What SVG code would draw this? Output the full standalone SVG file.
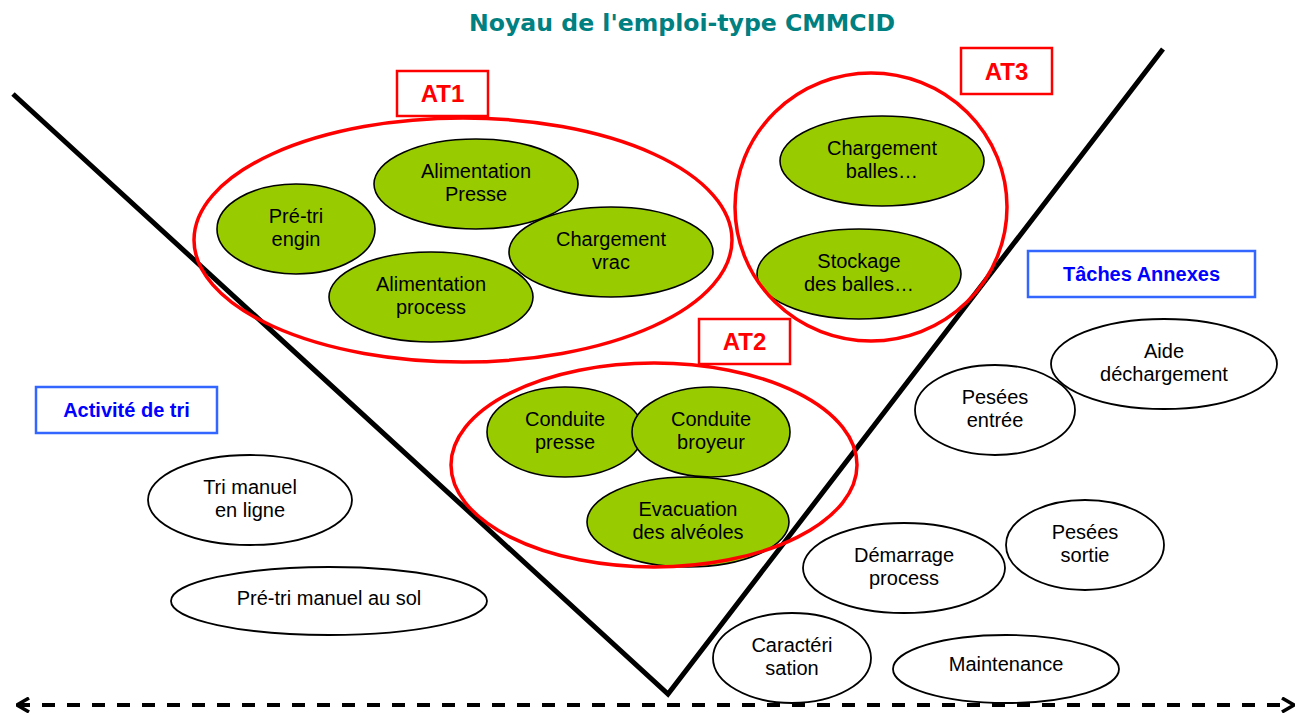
<svg xmlns="http://www.w3.org/2000/svg" width="1306" height="713" viewBox="0 0 1306 713">
<style>
.t{font-family:"Liberation Sans",Arial,sans-serif;font-size:20px;fill:#000;text-anchor:middle}
.g{fill:#99CC00;stroke:#000;stroke-width:1.6}
.w{fill:#fff;stroke:#000;stroke-width:1.8}
.red{fill:none;stroke:#FF0000;stroke-width:3.5}
.rbox{fill:#fff;stroke:#FF0000;stroke-width:2.5}
.rt{font-family:"Liberation Sans",Arial,sans-serif;font-size:24px;font-weight:bold;fill:#FF0000;text-anchor:middle}
.bbox{fill:#fff;stroke:#3366FF;stroke-width:2.5}
.bt{font-family:"Liberation Sans",Arial,sans-serif;font-size:20px;font-weight:bold;fill:#0000FF;text-anchor:middle}
.v{fill:none;stroke:#000;stroke-width:5;stroke-linejoin:miter}
.axis{fill:none;stroke:#000;stroke-width:4;stroke-dasharray:13 12}
</style>
<defs>
<marker id="chev" viewBox="0 0 14 16" refX="13" refY="8" markerWidth="14" markerHeight="16" markerUnits="userSpaceOnUse" orient="auto-start-reverse">
<path d="M1,1 L13,8 L1,15" fill="none" stroke="#000" stroke-width="3.5"/>
</marker>
</defs>
<rect width="1306" height="713" fill="#fff"/>
<text id="title" x="682" y="31" font-family="'DejaVu Sans',sans-serif" font-size="23" font-weight="bold" fill="#008080" text-anchor="middle" textLength="426" lengthAdjust="spacingAndGlyphs">Noyau de l'emploi-type CMMCID</text>

<g id="connectors">
<polyline class="v" points="13,94 668,694 1163,49"/>
<line class="axis" x1="17" y1="705" x2="1294" y2="705" marker-start="url(#chev)" marker-end="url(#chev)"/>
</g>

<g id="at1-group">
<g id="n-pretri-engin"><ellipse class="g" cx="296" cy="229" rx="79" ry="45"/><text class="t" x="296" y="223">Pré-tri</text><text class="t" x="296" y="246">engin</text></g>
<g id="n-alim-presse"><ellipse class="g" cx="476" cy="184" rx="102" ry="45"/><text class="t" x="476" y="178">Alimentation</text><text class="t" x="476" y="201">Presse</text></g>
<g id="n-charg-vrac"><ellipse class="g" cx="611" cy="252" rx="102" ry="45"/><text class="t" x="611" y="246">Chargement</text><text class="t" x="611" y="269">vrac</text></g>
<g id="n-alim-process"><ellipse class="g" cx="431" cy="297" rx="102" ry="45"/><text class="t" x="431" y="291">Alimentation</text><text class="t" x="431" y="314">process</text></g>
<ellipse id="at1-ring" class="red" cx="463" cy="240" rx="269" ry="122"/>
<g id="at1-label"><rect class="rbox" x="397" y="71" width="91" height="45"/><text class="rt" x="442.5" y="102">AT1</text></g>
</g>

<g id="at3-group">
<g id="n-charg-balles"><ellipse class="g" cx="882" cy="161" rx="102" ry="45"/><text class="t" x="882" y="155">Chargement</text><text class="t" x="882" y="178">balles…</text></g>
<g id="n-stockage"><ellipse class="g" cx="859" cy="274" rx="102" ry="45"/><text class="t" x="859" y="268">Stockage</text><text class="t" x="859" y="291">des balles…</text></g>
<ellipse id="at3-ring" class="red" cx="871" cy="207" rx="136" ry="134"/>
<g id="at3-label"><rect class="rbox" x="961" y="48" width="91" height="46"/><text class="rt" x="1006.5" y="80">AT3</text></g>
</g>

<g id="at2-group">
<g id="n-conduite-presse"><ellipse class="g" cx="565" cy="432" rx="78" ry="45"/><text class="t" x="565" y="426">Conduite</text><text class="t" x="565" y="449">presse</text></g>
<g id="n-conduite-broyeur"><ellipse class="g" cx="711" cy="432" rx="79" ry="45"/><text class="t" x="711" y="426">Conduite</text><text class="t" x="711" y="449">broyeur</text></g>
<g id="n-evacuation"><ellipse class="g" cx="688" cy="522" rx="101" ry="45"/><text class="t" x="688" y="516">Evacuation</text><text class="t" x="688" y="539">des alvéoles</text></g>
<ellipse id="at2-ring" class="red" cx="654" cy="465" rx="203" ry="102"/>
<g id="at2-label"><rect class="rbox" x="699" y="319" width="91" height="45"/><text class="rt" x="744.5" y="350">AT2</text></g>
</g>

<g id="activite-tri"><rect class="bbox" x="36" y="387" width="181" height="46"/><text class="bt" x="126.5" y="417">Activité de tri</text></g>
<g id="taches-annexes"><rect class="bbox" x="1028" y="251" width="227" height="46"/><text class="bt" x="1141.5" y="281">Tâches Annexes</text></g>

<g id="n-tri-manuel"><ellipse class="w" cx="250" cy="500" rx="102" ry="45"/><text class="t" x="250" y="494">Tri manuel</text><text class="t" x="250" y="517">en ligne</text></g>
<g id="n-pretri-sol"><ellipse class="w" cx="329" cy="601" rx="158" ry="34"/><text class="t" x="329" y="605">Pré-tri manuel au sol</text></g>
<g id="n-aide"><ellipse class="w" cx="1164" cy="364" rx="113" ry="45"/><text class="t" x="1164" y="358">Aide</text><text class="t" x="1164" y="381">déchargement</text></g>
<g id="n-pesees-entree"><ellipse class="w" cx="995" cy="410" rx="80" ry="45"/><text class="t" x="995" y="404">Pesées</text><text class="t" x="995" y="427">entrée</text></g>
<g id="n-demarrage"><ellipse class="w" cx="904" cy="568" rx="101" ry="45"/><text class="t" x="904" y="562">Démarrage</text><text class="t" x="904" y="585">process</text></g>
<g id="n-pesees-sortie"><ellipse class="w" cx="1085" cy="545" rx="79" ry="45"/><text class="t" x="1085" y="539">Pesées</text><text class="t" x="1085" y="562">sortie</text></g>
<g id="n-caracterisation"><ellipse class="w" cx="792" cy="658" rx="79" ry="45"/><text class="t" x="792" y="652">Caractéri</text><text class="t" x="792" y="675">sation</text></g>
<g id="n-maintenance"><ellipse class="w" cx="1006" cy="669" rx="113" ry="34"/><text class="t" x="1006" y="671">Maintenance</text></g>
</svg>
